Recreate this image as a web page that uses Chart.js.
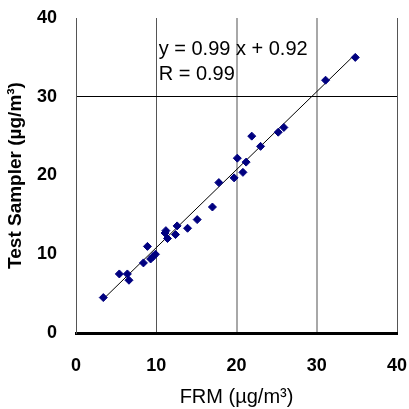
<!DOCTYPE html>
<html>
<head>
<meta charset="utf-8">
<script src="https://cdn.jsdelivr.net/npm/chart.js@4"></script>
<style>
  html, body { margin: 0; padding: 0; background: #fff; }
  #chart { display: block; }
</style>
</head>
<body>
<canvas id="chart" width="409" height="409"></canvas>
<script>
// ===============================
// DATA
// ===============================
const frm = [3.4, 5.4, 6.4, 6.6, 8.4, 8.9, 9.3, 9.6, 9.9, 11.1, 11.2, 11.4, 12.4, 12.6, 13.9, 15.1, 17.0, 17.8, 19.7, 20.1, 20.8, 21.2, 21.9, 23.0, 25.2, 25.9, 31.1, 34.8];
const testSampler = [4.5, 7.5, 7.5, 6.7, 8.9, 11.0, 9.4, 9.7, 10.0, 12.7, 13.0, 12.0, 12.5, 13.6, 13.3, 14.4, 16.0, 19.1, 19.7, 22.2, 20.4, 21.7, 25.0, 23.7, 25.5, 26.1, 32.1, 35.0];
const trendX = [3.4, 34.8];
const trendY = [4.3, 35.4];
const tickValues = [0, 10, 20, 30, 40];
const equationLines = ["y = 0.99 x + 0.92", "R = 0.99"];

const points = frm.map((x, i) => ({ x: x, y: testSampler[i] }));
const trend = trendX.map((x, i) => ({ x: x, y: trendY[i] }));

const FONT = "'Liberation Sans', Arial, sans-serif";

// x grid: dark thin at 10 and 40, light thick at 20/30
function xGridColor(ctx) {
  const v = ctx.tick.value;
  if (v === 0) return "rgba(0,0,0,0)";
  if (v === 20 || v === 30) return "#a8a8a8";
  return "#555";
}
function xGridWidth(ctx) {
  const v = ctx.tick.value;
  return (v === 20 || v === 30) ? 2 : 1;
}
// y grid: only the line at 30
function yGridColor(ctx) {
  return ctx.tick.value === 30 ? "#000" : "rgba(0,0,0,0)";
}

// equation text in the upper plot area
const equationPlugin = {
  id: "equation",
  afterDatasetsDraw(chart) {
    const c = chart.ctx;
    const xs = chart.scales.x, ys = chart.scales.y;
    c.save();
    c.font = "20px " + FONT;
    c.fillStyle = "#000";
    c.textBaseline = "middle";
    c.textAlign = "left";
    equationLines.forEach((line, i) => {
      c.fillText(line, xs.getPixelForValue(10.3), ys.getPixelForValue(36.0 - i * 3.2));
    });
    c.restore();
  }
};

new Chart(document.getElementById("chart"), {
  type: "scatter",
  data: {
    datasets: [
      {
        data: points,
        pointStyle: "rectRot",
        pointRadius: 4,
        pointBorderWidth: 1,
        backgroundColor: "#000080",
        borderColor: "#000080",
        order: 1
      },
      {
        type: "line",
        data: trend,
        borderColor: "#000",
        borderWidth: 1,
        pointRadius: 0,
        fill: false,
        order: 2
      }
    ]
  },
  options: {
    responsive: false,
    animation: false,
    layout: { padding: { top: 18, right: 12, left: 0, bottom: 0 } },
    plugins: { legend: { display: false }, tooltip: { enabled: false } },
    scales: {
      x: {
        type: "linear",
        min: 0, max: 40,
        afterBuildTicks: (s) => { s.ticks = tickValues.map(v => ({ value: v })); },
        afterFit: (s) => { s.height = 76; s.paddingLeft = 0; s.paddingRight = 0; },
        grid: { color: xGridColor, lineWidth: xGridWidth, drawTicks: false },
        border: { color: "#000", width: 3 },
        ticks: {
          padding: 22,
          color: "#000",
          font: { family: FONT, size: 18, weight: "bold" }
        },
        title: {
          display: true,
          text: "FRM (µg/m³)",
          color: "#000",
          padding: { top: 0, bottom: 0 },
          font: { family: FONT, size: 20 }
        }
      },
      y: {
        type: "linear",
        min: 0, max: 40,
        afterBuildTicks: (s) => { s.ticks = tickValues.map(v => ({ value: v })); },
        afterFit: (s) => { s.width = 76; s.paddingTop = 0; s.paddingBottom = 0; },
        grid: { color: yGridColor, lineWidth: 1, drawTicks: false },
        border: { color: "#555", width: 1 },
        ticks: {
          padding: 19,
          color: "#000",
          font: { family: FONT, size: 18, weight: "bold" }
        },
        title: {
          display: true,
          text: "Test Sampler (µg/m³)",
          color: "#000",
          padding: { top: 4, bottom: 0 },
          font: { family: FONT, size: 19, weight: "bold" }
        }
      }
    }
  },
  plugins: [equationPlugin]
});
</script>
</body>
</html>
